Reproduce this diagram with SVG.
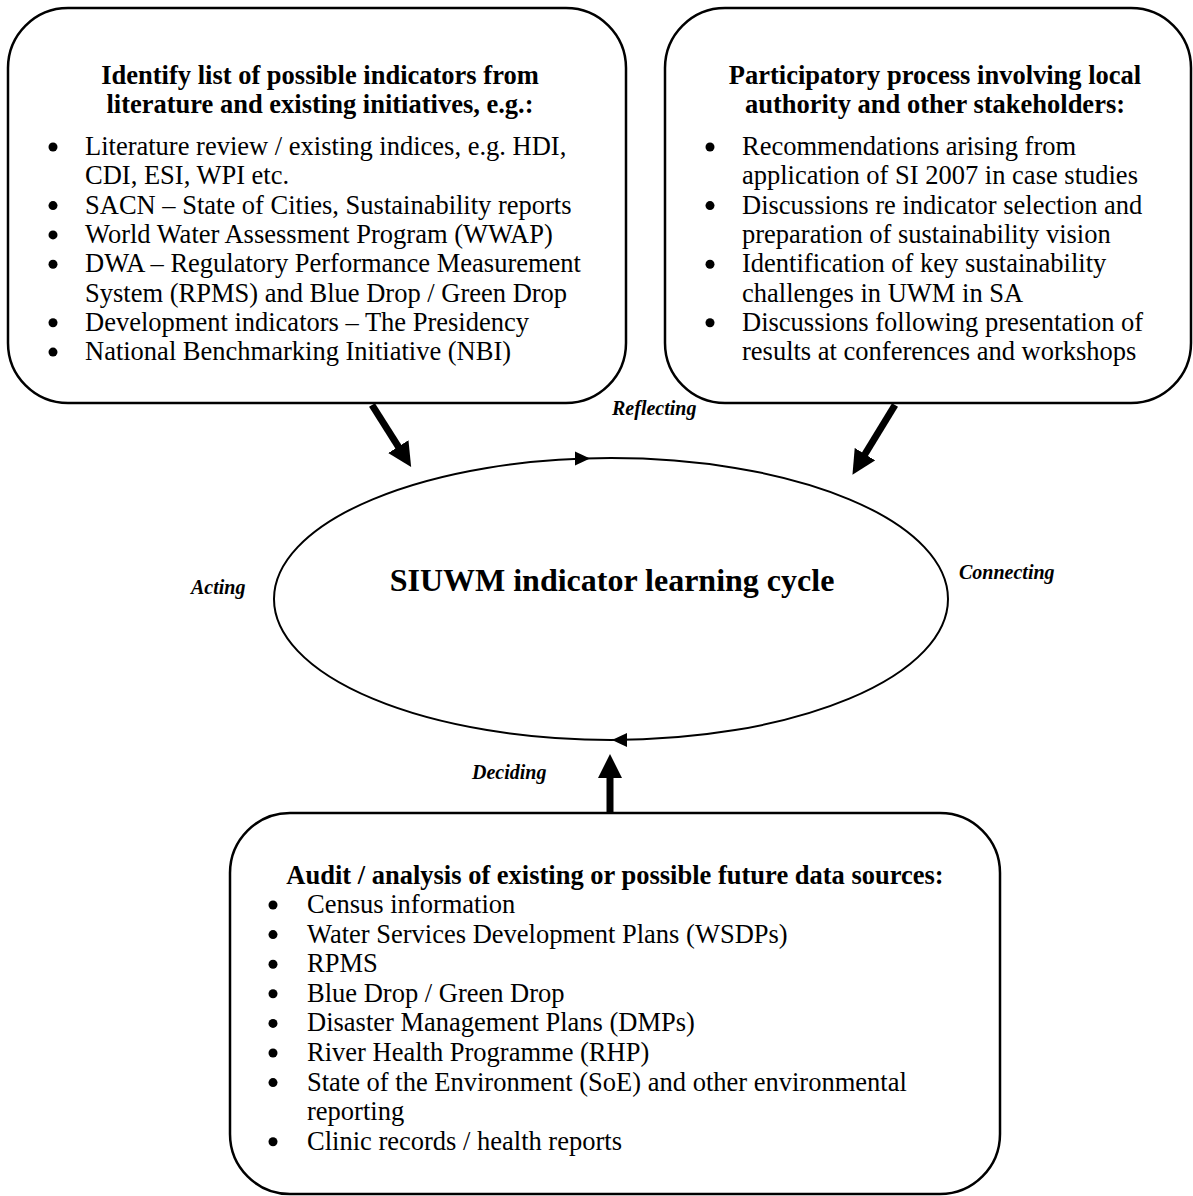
<svg xmlns="http://www.w3.org/2000/svg" width="1193" height="1196" viewBox="0 0 1193 1196">
<style>
.box{fill:#fff;stroke:#000;stroke-width:2.5}
.t{font-family:"Liberation Serif","Times New Roman",serif;font-size:26.5px;fill:#000}
.h{font-family:"Liberation Serif","Times New Roman",serif;font-size:26.5px;font-weight:bold;fill:#000;text-anchor:middle}
.lbl{font-family:"Liberation Serif","Times New Roman",serif;font-size:20px;font-weight:bold;font-style:italic;fill:#000}
.big{font-family:"Liberation Serif","Times New Roman",serif;font-size:32px;font-weight:bold;fill:#000;text-anchor:middle}
.dot{fill:#000}
.thick{stroke:#000;stroke-width:7;fill:none;marker-end:url(#head)}
</style>
<defs>
<marker id="head" markerUnits="userSpaceOnUse" viewBox="0 0 24 24" markerWidth="24" markerHeight="24" refX="8" refY="12" orient="auto">
<path d="M0,0 L24,12 L0,24 z" fill="#000"/>
</marker>
</defs>
<rect width="1193" height="1196" fill="#fff"/>

<g id="box-literature">
<rect class="box" x="8" y="8" width="618" height="395" rx="60" ry="60"/>
<text class="h" x="320" y="84">Identify list of possible indicators from</text>
<text class="h" x="320" y="113">literature and existing initiatives, e.g.:</text>
<circle class="dot" cx="53" cy="147" r="4.5"/>
<text class="t" x="85" y="155">Literature review / existing indices, e.g. HDI,</text>
<text class="t" x="85" y="184.3">CDI, ESI, WPI etc.</text>
<circle class="dot" cx="53" cy="205.6" r="4.5"/>
<text class="t" x="85" y="213.6">SACN – State of Cities, Sustainability reports</text>
<circle class="dot" cx="53" cy="234.9" r="4.5"/>
<text class="t" x="85" y="242.9">World Water Assessment Program (WWAP)</text>
<circle class="dot" cx="53" cy="264.2" r="4.5"/>
<text class="t" x="85" y="272.2">DWA – Regulatory Performance Measurement</text>
<text class="t" x="85" y="301.5">System (RPMS) and Blue Drop / Green Drop</text>
<circle class="dot" cx="53" cy="322.8" r="4.5"/>
<text class="t" x="85" y="330.8">Development indicators – The Presidency</text>
<circle class="dot" cx="53" cy="352.1" r="4.5"/>
<text class="t" x="85" y="360.1">National Benchmarking Initiative (NBI)</text>
</g>

<g id="box-participatory">
<rect class="box" x="665" y="8" width="526" height="395" rx="60" ry="60"/>
<text class="h" x="935" y="84">Participatory process involving local</text>
<text class="h" x="935" y="113">authority and other stakeholders:</text>
<circle class="dot" cx="710" cy="147" r="4.5"/>
<text class="t" x="742" y="155">Recommendations arising from</text>
<text class="t" x="742" y="184.3">application of SI 2007 in case studies</text>
<circle class="dot" cx="710" cy="205.6" r="4.5"/>
<text class="t" x="742" y="213.6">Discussions re indicator selection and</text>
<text class="t" x="742" y="242.9">preparation of sustainability vision</text>
<circle class="dot" cx="710" cy="264.2" r="4.5"/>
<text class="t" x="742" y="272.2">Identification of key sustainability</text>
<text class="t" x="742" y="301.5">challenges in UWM in SA</text>
<circle class="dot" cx="710" cy="322.8" r="4.5"/>
<text class="t" x="742" y="330.8">Discussions following presentation of</text>
<text class="t" x="742" y="360.1">results at conferences and workshops</text>
</g>

<g id="box-data">
<rect class="box" x="230" y="813" width="770" height="381" rx="60" ry="60"/>
<text class="h" x="615" y="884">Audit / analysis of existing or possible future data sources:</text>
<circle class="dot" cx="273" cy="905" r="4.5"/>
<text class="t" x="307" y="913">Census information</text>
<circle class="dot" cx="273" cy="934.6" r="4.5"/>
<text class="t" x="307" y="942.6">Water Services Development Plans (WSDPs)</text>
<circle class="dot" cx="273" cy="964.2" r="4.5"/>
<text class="t" x="307" y="972.2">RPMS</text>
<circle class="dot" cx="273" cy="993.8" r="4.5"/>
<text class="t" x="307" y="1001.8">Blue Drop / Green Drop</text>
<circle class="dot" cx="273" cy="1023.4" r="4.5"/>
<text class="t" x="307" y="1031.4">Disaster Management Plans (DMPs)</text>
<circle class="dot" cx="273" cy="1053" r="4.5"/>
<text class="t" x="307" y="1061">River Health Programme (RHP)</text>
<circle class="dot" cx="273" cy="1082.6" r="4.5"/>
<text class="t" x="307" y="1090.6">State of the Environment (SoE) and other environmental</text>
<text class="t" x="307" y="1120.2">reporting</text>
<circle class="dot" cx="273" cy="1141.8" r="4.5"/>
<text class="t" x="307" y="1149.8">Clinic records / health reports</text>
</g>

<g id="cycle">
<ellipse cx="611" cy="599" rx="337" ry="141" fill="#fff" stroke="#000" stroke-width="2"/>
<path d="M575,451.5 L590,458.5 L575,465.5 z" fill="#000"/>
<path d="M612,740 L627,733 L627,747 z" fill="#000"/>
<text class="big" x="612" y="591">SIUWM indicator learning cycle</text>
<text class="lbl" x="612" y="415">Reflecting</text>
<text class="lbl" x="959" y="579">Connecting</text>
<text class="lbl" x="191" y="594">Acting</text>
<text class="lbl" x="472" y="779">Deciding</text>
</g>

<g id="connectors">
<line class="thick" x1="372" y1="405" x2="402.6" y2="453.4"/>
<line class="thick" x1="895" y1="405" x2="860.8" y2="461"/>
<line class="thick" x1="610" y1="812" x2="610" y2="770"/>
</g>
</svg>
